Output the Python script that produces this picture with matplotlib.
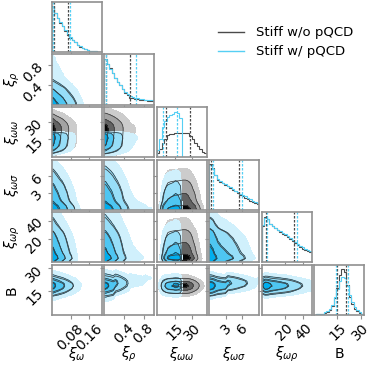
import numpy as np
import matplotlib.pyplot as plt
from matplotlib.lines import Line2D

labels = [r'$\xi_{\omega}$', r'$\xi_{\rho}$', r'$\xi_{\omega\omega}$',
          r'$\xi_{\omega\sigma}$', r'$\xi_{\omega\rho}$', 'B']
ranges = [(0.0, 0.215), (0.0, 1.02), (-1.0, 43.0), (0.0, 9.0), (-5.0, 49.0), (0.0, 32.0)]
ticks = [[0.08, 0.16], [0.4, 0.8], [15, 30], [3, 6], [20, 40], [15, 30]]
tick_labels = [['0.08', '0.16'], ['0.4', '0.8'], ['15', '30'], ['3', '6'], ['20', '40'], ['15', '30']]
series_names = ['Stiff w/o pQCD', 'Stiff w/ pQCD']

# marginal histograms (20 bins over each range)
xi_w_nopqcd = [1.0, 0.85, 0.74, 0.64, 0.56, 0.47, 0.38, 0.31, 0.26, 0.21,
               0.15, 0.11, 0.08, 0.06, 0.045, 0.03, 0.015, 0.01, 0.005, 0.0]
xi_w_pqcd = [0.99, 0.86, 0.75, 0.65, 0.57, 0.48, 0.40, 0.33, 0.27, 0.22,
             0.16, 0.12, 0.09, 0.065, 0.05, 0.03, 0.02, 0.01, 0.005, 0.0]
xi_rho_nopqcd = [1.0, 0.90, 0.80, 0.70, 0.59, 0.50, 0.42, 0.33, 0.26, 0.20,
                 0.15, 0.14, 0.13, 0.12, 0.11, 0.10, 0.09, 0.08, 0.08, 0.07]
xi_rho_pqcd = [1.0, 0.88, 0.79, 0.69, 0.59, 0.50, 0.42, 0.34, 0.28, 0.22,
               0.18, 0.16, 0.15, 0.14, 0.13, 0.12, 0.11, 0.10, 0.10, 0.09]
xi_ww_nopqcd = [0.10, 0.18, 0.30, 0.40, 0.48, 0.50, 0.51, 0.52, 0.52, 0.53,
                0.54, 0.54, 0.52, 0.47, 0.39, 0.32, 0.24, 0.18, 0.12, 0.08]
xi_ww_pqcd = [0.15, 0.40, 0.66, 0.80, 0.88, 0.92, 0.95, 1.0, 0.97, 0.85,
              0.0, 0.0, 0.0, 0.0, 0.0, 0.0, 0.0, 0.0, 0.0, 0.0]
xi_ws_nopqcd = [1.0, 0.92, 0.76, 0.66, 0.61, 0.58, 0.55, 0.51, 0.47, 0.44,
                0.40, 0.36, 0.32, 0.29, 0.26, 0.23, 0.20, 0.17, 0.15, 0.12]
xi_ws_pqcd = [0.98, 0.90, 0.77, 0.67, 0.62, 0.59, 0.56, 0.53, 0.49, 0.46,
              0.42, 0.39, 0.35, 0.32, 0.29, 0.26, 0.23, 0.20, 0.18, 0.15]
xi_wr_nopqcd = [0.80, 1.0, 0.95, 0.84, 0.79, 0.75, 0.71, 0.67, 0.63, 0.60,
                0.56, 0.52, 0.47, 0.42, 0.37, 0.33, 0.30, 0.27, 0.25, 0.23]
xi_wr_pqcd = [0.82, 0.97, 0.94, 0.85, 0.80, 0.76, 0.72, 0.69, 0.65, 0.62,
              0.58, 0.54, 0.49, 0.44, 0.40, 0.36, 0.33, 0.30, 0.27, 0.25]
B_nopqcd = [0.0, 0.01, 0.01, 0.02, 0.04, 0.07, 0.11, 0.20, 0.37, 0.60,
            0.88, 1.0, 0.94, 0.66, 0.40, 0.24, 0.14, 0.09, 0.04, 0.02]
B_pqcd = [0.0, 0.01, 0.02, 0.03, 0.06, 0.09, 0.13, 0.22, 0.39, 0.57,
          0.75, 0.83, 0.80, 0.64, 0.44, 0.28, 0.17, 0.11, 0.06, 0.03]

# dashed quantile lines on the diagonal
quant_nopqcd = [(0.009, 0.070), (0.04, 0.53), (7.5, 28.7), (0.36, 5.4), (-0.7, 30.6), (14.7, 20.7)]
quant_pqcd = [(0.004, 0.079), (0.04, 0.65), (4.5, 17.2), (0.72, 6.0), (0.4, 32.8), (14.1, 21.8)]

# upward drift of B (in bins) across each other parameter's range
b_tilt = [0.0, 3.0, 0.0, 1.5, 0.5]

hists = [[xi_w_nopqcd, xi_rho_nopqcd, xi_ww_nopqcd, xi_ws_nopqcd, xi_wr_nopqcd, B_nopqcd],
         [xi_w_pqcd, xi_rho_pqcd, xi_ww_pqcd, xi_ws_pqcd, xi_wr_pqcd, B_pqcd]]
quants = [quant_nopqcd, quant_pqcd]

line_colors = ['#4a4a4a', '#55cff4']
fill_colors = [['#cccccc', '#a3a3a3', '#626262', '#050505'],
               ['#d0f0fc', '#97def8', '#4ec6f2', '#00aeee']]
edge_colors = ['#3a3a3a', '#2f3a40']

probs = 1.0 - np.exp(-0.5 * np.arange(0.5, 2.1, 0.5) ** 2)
sharpen = 1.1


def density2d(hx, hy, tilt=0.0):
    hx = np.asarray(hx, float)
    hy = np.asarray(hy, float)
    H = np.zeros((len(hx), len(hy)))
    for k in range(len(hx)):
        s = int(round(tilt * k / (len(hx) - 1)))
        col = np.concatenate([np.zeros(s), hy[:len(hy) - s]]) if s > 0 else hy
        H[k] = hx[k] * col
    return H ** sharpen


def contour_levels(H):
    flat = np.sort(H.ravel())[::-1]
    cum = np.cumsum(flat)
    cum /= cum[-1]
    V = []
    for p in probs:
        sel = flat[cum <= p]
        V.append(sel[-1] if len(sel) else flat[0])
    V = np.sort(np.array(V))
    for i in range(1, len(V)):
        if V[i] <= V[i - 1]:
            V[i] = V[i - 1] * 1.0001
    return V


def padded(H, xe, ye):
    xc = 0.5 * (xe[1:] + xe[:-1])
    yc = 0.5 * (ye[1:] + ye[:-1])
    dx, dy = xe[1] - xe[0], ye[1] - ye[0]
    X2 = np.concatenate([[xc[0] - 2 * dx, xc[0] - dx], xc, [xc[-1] + dx, xc[-1] + 2 * dx]])
    Y2 = np.concatenate([[yc[0] - 2 * dy, yc[0] - dy], yc, [yc[-1] + dy, yc[-1] + 2 * dy]])
    H2 = np.zeros((H.shape[0] + 4, H.shape[1] + 4)) + H.min()
    H2[2:-2, 2:-2] = H
    H2[2:-2, 1] = H[:, 0]
    H2[2:-2, -2] = H[:, -1]
    H2[1, 2:-2] = H[0]
    H2[-2, 2:-2] = H[-1]
    H2[1, 1] = H[0, 0]
    H2[1, -2] = H[0, -1]
    H2[-2, 1] = H[-1, 0]
    H2[-2, -2] = H[-1, -1]
    return X2, Y2, H2


plt.rcParams['font.size'] = 10
n = len(labels)
fig, axes = plt.subplots(n, n, figsize=(3.74, 3.67), dpi=100)
fig.subplots_adjust(left=0.139, right=0.973, bottom=0.142, top=0.995, wspace=0.05, hspace=0.05)

edges = [np.linspace(lo, hi, 21) for lo, hi in ranges]

for i in range(n):
    for j in range(n):
        ax = axes[i, j]
        if j > i:
            ax.axis('off')
            continue

        if i == j:
            # 1D marginal
            for s in range(2):
                ax.stairs(hists[s][i], edges[i], color=line_colors[s], lw=0.8)
                for q in quants[s][i]:
                    ax.axvline(q, color=line_colors[s], lw=0.9, ls=(0, (2.0, 1.2)))
            top = max(max(hists[0][i]), max(hists[1][i]))
            ax.set_ylim(0, 1.1 * top)
            ax.set_yticks([])
        else:
            # 2D contours, x = parameter j, y = parameter i
            for s in range(2):
                tilt = b_tilt[j] if i == n - 1 else 0.0
                H = density2d(hists[s][j], hists[s][i], tilt)
                V = contour_levels(H)
                X2, Y2, H2 = padded(H, edges[j], edges[i])
                ax.contourf(X2, Y2, H2.T, np.append(V, H.max() * 1.0001),
                            colors=fill_colors[s])
                ax.contour(X2, Y2, H2.T, V[1:], colors=edge_colors[s], linewidths=0.55)
            ax.set_ylim(ranges[i])
            ax.set_yticks(ticks[i])
            if j == 0:
                ax.set_yticklabels(tick_labels[i], rotation=45)
                ax.set_ylabel(labels[i], fontsize=10, va='center')
                ax.yaxis.set_label_coords(-0.8, 0.5)
            else:
                ax.set_yticklabels([])

        ax.set_xlim(ranges[j])
        ax.set_xticks(ticks[j])
        if i == n - 1:
            ax.set_xticklabels(tick_labels[j], rotation=45)
            ax.set_xlabel(labels[j], fontsize=10, va='center')
            ax.xaxis.set_label_coords(0.5, -0.78)
        else:
            ax.set_xticklabels([])

        for sp in ax.spines.values():
            sp.set_color('#909090')
            sp.set_linewidth(1.2)
        ax.tick_params(length=3, width=0.8, color='#909090', pad=1.5)

handles = [Line2D([], [], color=line_colors[0], lw=1.0),
           Line2D([], [], color=line_colors[1], lw=1.0)]
fig.legend(handles, series_names, loc='upper left', bbox_to_anchor=(0.568, 0.943),
           frameon=False, fontsize=9.5, handlelength=2.0, handletextpad=0.9,
           labelspacing=0.45, borderaxespad=0.0)

fig.savefig('out.png', dpi=100)
